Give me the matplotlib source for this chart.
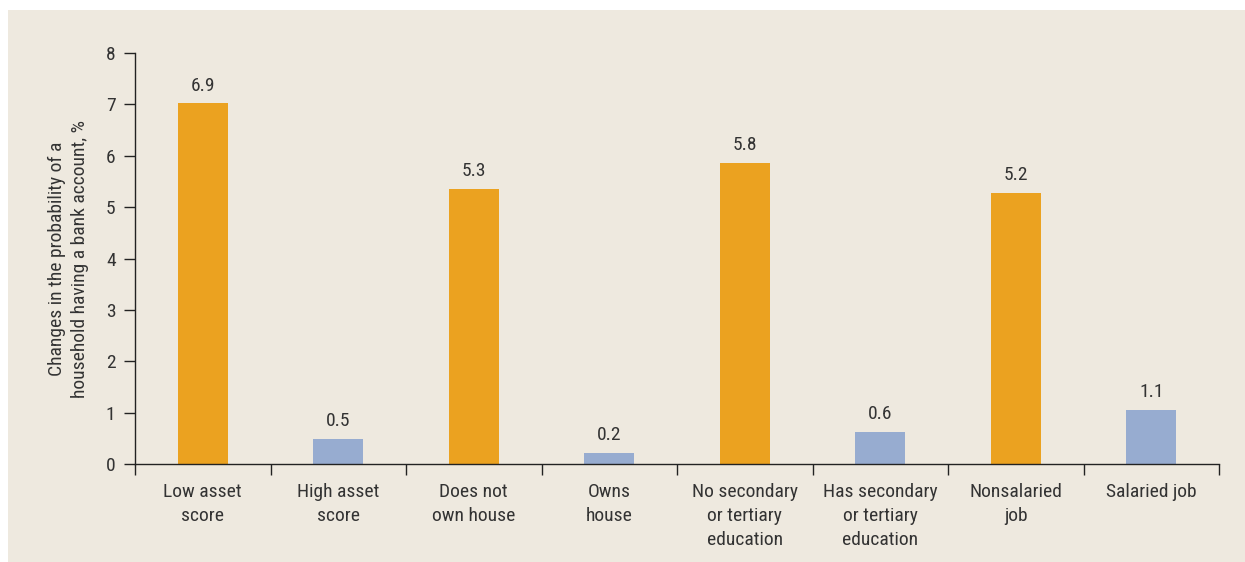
import numpy as np
import matplotlib.pyplot as plt
from matplotlib.patches import Rectangle
from matplotlib import font_manager

# ── data ──────────────────────────────────────────────────────────────────────
categories = ["Low asset\nscore", "High asset\nscore", "Does not\nown house", "Owns\nhouse",
              "No secondary\nor tertiary\neducation", "Has secondary\nor tertiary\neducation",
              "Nonsalaried\njob", "Salaried job"]
heights = [7.02, 0.49, 5.36, 0.21, 5.86, 0.62, 5.28, 1.05]
labels = ["6.9", "0.5", "5.3", "0.2", "5.8", "0.6", "5.2", "1.1"]
groups = ["disadv", "adv"] * 4

# ── style: pick a narrow sans if one is around ───────────────────────────────
fonts = font_manager.fontManager.ttflist
names = {f.name for f in fonts}
family, stretch = "DejaVu Sans", "normal"
for cand in ["Roboto Condensed", "Liberation Sans Narrow", "Open Sans Condensed"]:
    if cand in names:
        family = cand
        break
else:
    if any(f.name == "DejaVu Sans" and f.stretch == "condensed" for f in fonts):
        stretch = "condensed"
plt.rcParams["font.family"] = [family, "DejaVu Sans"]
plt.rcParams["font.stretch"] = stretch

FS = 14
TEXT = "#333333"
BG = "#eee9df"
colors = {"disadv": "#eba220", "adv": "#97acd0"}

W, H = 1245, 562
fig = plt.figure(figsize=(W / 100, H / 100), dpi=100, facecolor="white")
fig.patches.append(Rectangle((8 / W, 0), 1 - 8 / W, 1 - 10 / H, transform=fig.transFigure,
                             facecolor=BG, edgecolor="none", zorder=-10))

ax = fig.add_axes([135 / W, 1 - 464 / H, (1219 - 135) / W, (464 - 53) / H])
ax.patch.set_alpha(0)

x = np.arange(len(categories))
ax.bar(x, heights, width=0.37, color=[colors[g] for g in groups], zorder=2)
for xi, h, lab in zip(x, heights, labels):
    ax.text(xi, h + 0.17, lab, ha="center", va="bottom", fontsize=FS, color=TEXT)

ax.set_xlim(-0.5, len(categories) - 0.5)
ax.set_ylim(0, 8)
ax.set_yticks(range(0, 9))
ax.tick_params(axis="y", direction="out", length=8, width=1, colors="#222222",
               labelcolor=TEXT, labelsize=FS, pad=6)

# category labels centred, ticks at boundaries
ax.set_xticks(x)
ax.set_xticklabels(categories, fontsize=FS, color=TEXT, va="top", linespacing=1.42)
ax.tick_params(axis="x", which="major", length=0, pad=14)
ax.set_xticks(np.arange(-0.5, len(categories)), minor=True)
ax.tick_params(axis="x", which="minor", direction="out", length=8, width=1, colors="#222222")

for s in ["top", "right"]:
    ax.spines[s].set_visible(False)
for s in ["left", "bottom"]:
    ax.spines[s].set_color("#222222")
    ax.spines[s].set_linewidth(1)

ax.set_ylabel("Changes in the probability of a\nhousehold having a bank account, %",
              fontsize=FS, color=TEXT, labelpad=12, linespacing=1.4)

fig.savefig("out.png", dpi=100, facecolor="white")
